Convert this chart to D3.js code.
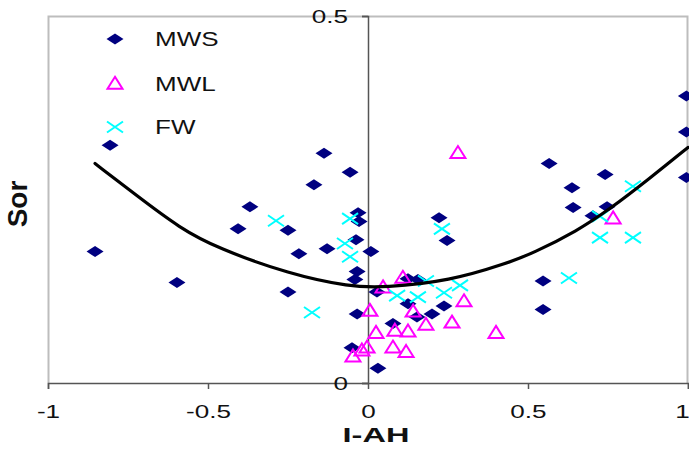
<!DOCTYPE html>
<html>
<head>
<meta charset="utf-8">
<script src="https://cdn.jsdelivr.net/npm/d3@7"></script>
<style>
html,body{margin:0;padding:0;background:#fff;overflow:hidden;}
svg{display:block;}
text{font-family:"Liberation Sans",Arial,sans-serif;}
</style>
</head>
<body>
<svg id="chart" width="689" height="450"></svg>
<script>
// ---- Data ----
const seriesNames = ["MWS", "MWL", "FW"];

const mwsX = [-0.853,-0.806,-0.597,-0.369,-0.406,-0.25,-0.25,-0.216,-0.1375,-0.169,-0.056,-0.031,-0.028,-0.0375,-0.128,0.009,-0.034,-0.041,0.028,0.125,0.156,0.125,0.153,0.20,0.2375,-0.034,0.078,-0.05,0.031,0.222,0.247,0.566,0.741,0.6375,0.641,0.747,0.703,0.547,0.547,0.995,0.995,0.995];
const mwsY = [0.179,0.324,0.137,0.240,0.210,0.208,0.124,0.176,0.313,0.270,0.287,0.232,0.220,0.195,0.183,0.179,0.152,0.141,0.124,0.142,0.141,0.108,0.090,0.094,0.105,0.094,0.081,0.048,0.020,0.225,0.194,0.299,0.284,0.266,0.239,0.240,0.228,0.139,0.100,0.391,0.342,0.280];

const mwlX = [0.281,0.766,0.109,0.047,0.006,0.141,0.30,0.181,0.2625,0.025,0.084,0.125,0.40,0.078,0.119,-0.003,-0.019,-0.047];
const mwlY = [0.313,0.224,0.143,0.130,0.098,0.097,0.111,0.079,0.082,0.068,0.071,0.070,0.068,0.048,0.042,0.048,0.044,0.036];

const fwX = [-0.2875,-0.056,-0.072,-0.056,0.231,-0.175,0.181,0.091,0.156,0.2375,0.2875,0.628,0.725,0.828,0.725,0.828];
const fwY = [0.221,0.224,0.190,0.172,0.210,0.096,0.139,0.119,0.117,0.123,0.133,0.143,0.198,0.198,0.227,0.268];

const trendX = [-0.853,-0.722,-0.588,-0.472,-0.244,-0.056,0.05,0.256,0.434,0.516,0.653,0.756,0.881,1.0];
const trendY = [0.299,0.255,0.211,0.184,0.148,0.131,0.130,0.139,0.163,0.177,0.207,0.237,0.279,0.321];

const xTicks = [-1, -0.5, 0, 0.5, 1];
const yTicks = [0, 0.5];
const xTitle = "I-AH";
const yTitle = "Sor";

// ---- Layout ----
const svg = d3.select("#chart");
const L = 48, R = 688, T = 16, B = 383;
const x = d3.scaleLinear().domain([-1, 1]).range([L, R]);
const y = d3.scaleLinear().domain([0, 0.5]).range([B, T]);
const SX = 1.45; // horizontal stretch of the text in the reference
const fmt = d => String(d); // plain hyphen-minus like the reference

// plot frame (grey)
svg.append("path")
  .attr("d", `M${L+0.5},${B} V${T+0.5} H${R-0.5} V${B}`)
  .attr("fill", "none").attr("stroke", "#bdbdbd").attr("stroke-width", 2);

// x axis
const xAxis = d3.axisBottom(x).tickValues(xTicks).tickSize(6).tickFormat(fmt);
const gx = svg.append("g").attr("transform", `translate(0,${B})`).call(xAxis);
gx.select(".domain").attr("stroke", "#555").attr("stroke-width", 1.5);
gx.selectAll(".tick line").attr("stroke", "#555").attr("stroke-width", 1.5);
gx.selectAll(".tick text").remove();
gx.selectAll(".tick").append("text")
  .attr("transform", d => `translate(${d === 1 ? -6 : 0},35) scale(${SX},1)`)
  .attr("text-anchor", "middle")
  .attr("fill", "#111").attr("font-size", 18)
  .text(fmt);

// y axis at x = 0
const yAxis = d3.axisLeft(y).tickValues(yTicks).tickSize(6).tickFormat(fmt);
const gy = svg.append("g").attr("transform", `translate(${x(0)},0)`).call(yAxis);
gy.select(".domain").attr("stroke", "#555").attr("stroke-width", 1.5);
gy.selectAll(".tick line").attr("stroke", "#555").attr("stroke-width", 1.5);
gy.selectAll(".tick text").remove();
gy.selectAll(".tick").append("text")
  .attr("transform", `translate(-20,6.5) scale(${SX},1)`)
  .attr("text-anchor", "end")
  .attr("fill", "#111").attr("font-size", 18)
  .text(fmt);

// axis titles
svg.append("text")
  .attr("transform", `translate(376,442) scale(1.55,1)`)
  .attr("text-anchor", "middle").attr("font-weight", "bold")
  .attr("font-size", 21).attr("fill", "#111").text(xTitle);
svg.append("text")
  .attr("transform", `translate(27,204) rotate(-90)`)
  .attr("text-anchor", "middle").attr("font-weight", "bold")
  .attr("font-size", 28).attr("fill", "#111").text(yTitle);

// marker shapes
const DW = 17, DH = 11;
const diamond = `M0,${-DH/2}L${DW/2},0L0,${DH/2}L${-DW/2},0Z`;
const TW = 15, TH = 12;
const triangle = `M0,${-TH*0.6}L${TW/2},${TH*0.4}L${-TW/2},${TH*0.4}Z`;
const XW = 16, XH = 11;
const cross = `M${-XW/2},${-XH/2}L${XW/2},${XH/2}M${XW/2},${-XH/2}L${-XW/2},${XH/2}`;

const plot = svg.append("g");

plot.selectAll("path.mws").data(d3.range(mwsX.length)).join("path")
  .attr("class", "mws")
  .attr("transform", i => `translate(${x(mwsX[i])},${y(mwsY[i])})`)
  .attr("d", diamond).attr("fill", "#000080");

plot.selectAll("path.mwl").data(d3.range(mwlX.length)).join("path")
  .attr("class", "mwl")
  .attr("transform", i => `translate(${x(mwlX[i])},${y(mwlY[i])})`)
  .attr("d", triangle).attr("fill", "none").attr("stroke", "#ff00ff").attr("stroke-width", 2);

plot.selectAll("path.fw").data(d3.range(fwX.length)).join("path")
  .attr("class", "fw")
  .attr("transform", i => `translate(${x(fwX[i])},${y(fwY[i])})`)
  .attr("d", cross).attr("fill", "none").attr("stroke", "#00ffff").attr("stroke-width", 2);

// trend line
const line = d3.line().x(i => x(trendX[i])).y(i => y(trendY[i])).curve(d3.curveBasis);
plot.append("path").attr("d", line(d3.range(trendX.length)))
  .attr("fill", "none").attr("stroke", "#000").attr("stroke-width", 3.2)
  .attr("stroke-linecap", "round");

// legend
const legend = svg.append("g");
const legY = [39, 84, 127];
const legShapes = [diamond, triangle, cross];
seriesNames.forEach((name, i) => {
  const m = legend.append("path").attr("transform", `translate(115,${legY[i]})`).attr("d", legShapes[i]);
  if (i === 0) m.attr("fill", "#000080");
  if (i === 1) m.attr("fill", "none").attr("stroke", "#ff00ff").attr("stroke-width", 2);
  if (i === 2) m.attr("fill", "none").attr("stroke", "#00ffff").attr("stroke-width", 2);
  legend.append("text")
    .attr("transform", `translate(155,${legY[i] + 7}) scale(1.3,1)`)
    .attr("font-size", 20).attr("fill", "#111").text(name);
});
</script>
</body>
</html>
